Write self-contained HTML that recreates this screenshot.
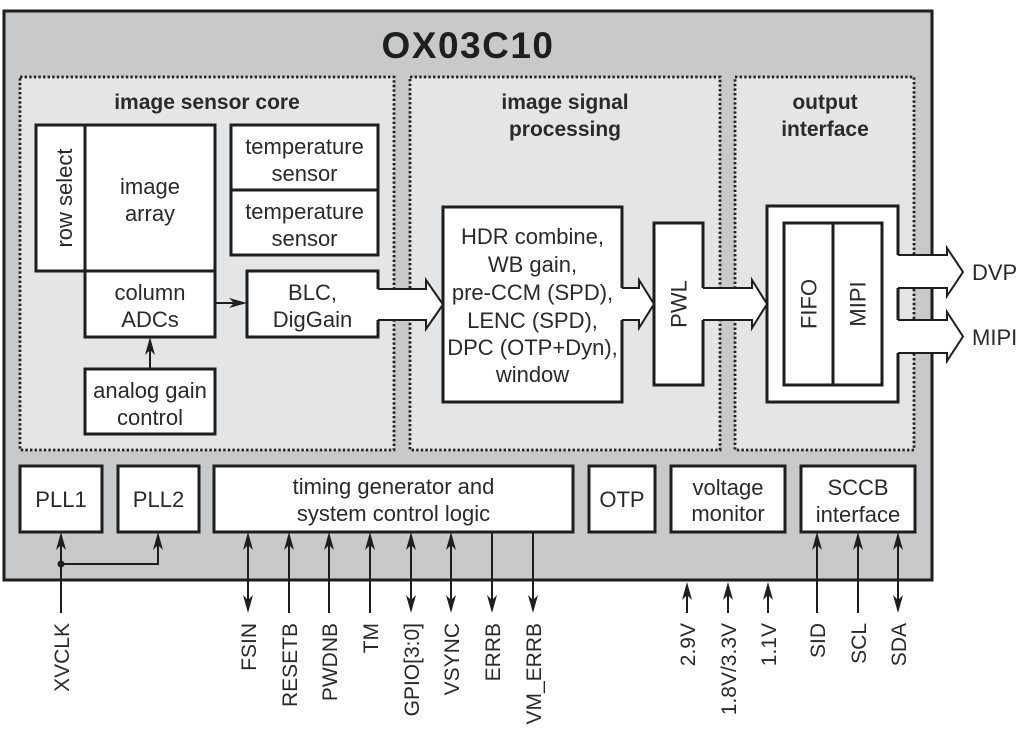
<!DOCTYPE html>
<html><head><meta charset="utf-8"><style>
html,body{margin:0;padding:0;background:#fff;}
svg{display:block;}
text{font-family:"Liberation Sans",sans-serif;fill:#2a2a2a;}
</style></head><body>
<svg width="1024" height="737" viewBox="0 0 1024 737" xmlns="http://www.w3.org/2000/svg">
<defs>
<path id="au" d="M0 0 L-5 18 L0 13 L5 18 Z" fill="#1e1e1e"/>
</defs>
<!-- outer -->
<rect x="4" y="11" width="928" height="569" fill="#c8c9cb" stroke="#1e1e1e" stroke-width="3"/>
<text x="468" y="58" font-size="37" font-weight="bold" text-anchor="middle" letter-spacing="1.5" style="fill:#1e1e1e">OX03C10</text>
<!-- panels -->
<g fill="#e4e5e7" stroke="#222" stroke-width="2.8" stroke-dasharray="2.4 2.2">
<rect x="20" y="77" width="374" height="373"/>
<rect x="410" y="77" width="310" height="373"/>
<rect x="735" y="77" width="179" height="373"/>
</g>
<g font-size="21" font-weight="bold" text-anchor="middle">
<text x="207" y="109">image sensor core</text>
<text x="565" y="109">image signal</text>
<text x="565" y="136">processing</text>
<text x="825" y="109">output</text>
<text x="825" y="136">interface</text>
</g>
<!-- boxes -->
<g fill="#fff" stroke="#1e1e1e" stroke-width="3">
<rect x="36" y="125" width="49" height="146"/>
<rect x="85" y="125" width="130" height="146"/>
<rect x="85" y="271" width="130" height="66"/>
<rect x="231" y="125" width="147" height="65"/>
<rect x="231" y="190" width="147" height="65"/>
<rect x="247" y="271" width="131" height="66"/>
<rect x="85" y="369" width="130" height="65"/>
<rect x="443" y="207" width="179" height="195"/>
<rect x="654" y="223" width="49" height="162"/>
<rect x="767" y="206" width="131" height="196"/>
<rect x="784" y="223" width="98" height="162"/>
<line x1="833" y1="223" x2="833" y2="385"/>
<rect x="20" y="466" width="82" height="66"/>
<rect x="118" y="466" width="81" height="66"/>
<rect x="214" y="466" width="359" height="66"/>
<rect x="589" y="466" width="66" height="66"/>
<rect x="671" y="466" width="114" height="66"/>
<rect x="801" y="466" width="114" height="66"/>
</g>
<!-- box text -->
<g font-size="22" text-anchor="middle">
<text x="150" y="194">image</text>
<text x="150" y="221">array</text>
<text x="150" y="300">column</text>
<text x="150" y="327">ADCs</text>
<text x="304.5" y="154">temperature</text>
<text x="304.5" y="181">sensor</text>
<text x="304.5" y="219">temperature</text>
<text x="304.5" y="246">sensor</text>
<text x="312.5" y="300">BLC,</text>
<text x="312.5" y="327">DigGain</text>
<text x="150" y="398">analog gain</text>
<text x="150" y="425">control</text>
<text x="532.5" y="244">HDR combine,</text>
<text x="532.5" y="272">WB gain,</text>
<text x="532.5" y="300">pre-CCM (SPD),</text>
<text x="532.5" y="328">LENC (SPD),</text>
<text x="532.5" y="355">DPC (OTP+Dyn),</text>
<text x="532.5" y="382">window</text>
<text x="61" y="507">PLL1</text>
<text x="158.5" y="507">PLL2</text>
<text x="393.5" y="494">timing generator and</text>
<text x="393.5" y="521">system control logic</text>
<text x="622" y="507">OTP</text>
<text x="728" y="495">voltage</text>
<text x="728" y="521">monitor</text>
<text x="858" y="495">SCCB</text>
<text x="858" y="522">interface</text>
<text transform="translate(72,198) rotate(-90)">row select</text>
<text transform="translate(686.5,304) rotate(-90)">PWL</text>
<text transform="translate(816.5,304) rotate(-90)">FIFO</text>
<text transform="translate(865.5,304) rotate(-90)">MIPI</text>
</g>
<!-- block arrows -->
<g fill="#fff" stroke="none">
<path d="M376 289 L426 289 L426 280 L443 304.5 L426 329 L426 320 L376 320 Z"/>
<path d="M620 288 L639 288 L639 280 L654 304 L639 328 L639 320 L620 320 Z"/>
<path d="M701 288 L752 288 L752 280 L767 304 L752 328 L752 320 L701 320 Z"/>
<path d="M896 255 L947 255 L947 248 L963 272 L947 296 L947 288 L896 288 Z"/>
<path d="M896 320 L947 320 L947 312 L963 336.5 L947 361 L947 353 L896 353 Z"/>
</g>
<g fill="none" stroke="#1e1e1e" stroke-width="2" stroke-linejoin="miter">
<polyline points="378,289 426,289 426,280 443,304.5 426,329 426,320 378,320"/>
<polyline points="622,288 639,288 639,280 654,304 639,328 639,320 622,320"/>
<polyline points="703,288 752,288 752,280 767,304 752,328 752,320 703,320"/>
<polyline points="898,255 947,255 947,248 963,272 947,296 947,288 898,288"/>
<polyline points="898,320 947,320 947,312 963,336.5 947,361 947,353 898,353"/>
</g>
<text x="972" y="280" font-size="22">DVP</text>
<text x="972" y="345" font-size="22">MIPI</text>
<!-- line arrows -->
<g stroke="#1e1e1e" stroke-width="2" fill="none">
<line x1="150" y1="369" x2="150" y2="345"/>
<line x1="215" y1="303" x2="240" y2="303"/>
<line x1="61" y1="613" x2="61" y2="540"/>
<polyline points="61,564 158,564 158,540"/>
<line x1="248" y1="540" x2="248" y2="605"/>
<line x1="289" y1="540" x2="289" y2="613"/>
<line x1="329" y1="540" x2="329" y2="613"/>
<line x1="370" y1="540" x2="370" y2="613"/>
<line x1="411" y1="540" x2="411" y2="605"/>
<line x1="451" y1="540" x2="451" y2="605"/>
<line x1="492" y1="532" x2="492" y2="605"/>
<line x1="533" y1="532" x2="533" y2="605"/>
<line x1="687" y1="590" x2="687" y2="613"/>
<line x1="728" y1="590" x2="728" y2="613"/>
<line x1="768" y1="590" x2="768" y2="613"/>
<line x1="817" y1="540" x2="817" y2="613"/>
<line x1="858" y1="540" x2="858" y2="613"/>
<line x1="898" y1="540" x2="898" y2="605"/>
</g>
<circle cx="61" cy="564" r="3.5" fill="#1e1e1e"/>
<!-- arrowheads up -->
<use href="#au" x="150" y="337"/>
<use href="#au" x="61" y="532"/>
<use href="#au" x="158" y="532"/>
<use href="#au" x="248" y="532"/>
<use href="#au" x="289" y="532"/>
<use href="#au" x="329" y="532"/>
<use href="#au" x="370" y="532"/>
<use href="#au" x="411" y="532"/>
<use href="#au" x="451" y="532"/>
<use href="#au" x="687" y="582"/>
<use href="#au" x="728" y="582"/>
<use href="#au" x="768" y="582"/>
<use href="#au" x="817" y="532"/>
<use href="#au" x="858" y="532"/>
<use href="#au" x="898" y="532"/>
<!-- arrowheads down -->
<use href="#au" transform="translate(248,613) rotate(180)"/>
<use href="#au" transform="translate(411,613) rotate(180)"/>
<use href="#au" transform="translate(451,613) rotate(180)"/>
<use href="#au" transform="translate(492,613) rotate(180)"/>
<use href="#au" transform="translate(533,613) rotate(180)"/>
<use href="#au" transform="translate(898,613) rotate(180)"/>
<!-- arrowhead right -->
<use href="#au" transform="translate(247,303) rotate(90)"/>
<!-- pin labels -->
<g font-size="21" text-anchor="end">
<text transform="translate(69,623) rotate(-90)">XVCLK</text>
<text transform="translate(256,623) rotate(-90)">FSIN</text>
<text transform="translate(297,623) rotate(-90)">RESETB</text>
<text transform="translate(337,623) rotate(-90)">PWDNB</text>
<text transform="translate(378,623) rotate(-90)">TM</text>
<text transform="translate(419,623) rotate(-90)">GPIO[3:0]</text>
<text transform="translate(459,623) rotate(-90)">VSYNC</text>
<text transform="translate(500,623) rotate(-90)">ERRB</text>
<text transform="translate(541,623) rotate(-90)">VM_ERRB</text>
<text transform="translate(695,623) rotate(-90)">2.9V</text>
<text transform="translate(736,623) rotate(-90)">1.8V/3.3V</text>
<text transform="translate(776,623) rotate(-90)">1.1V</text>
<text transform="translate(825,623) rotate(-90)">SID</text>
<text transform="translate(866,623) rotate(-90)">SCL</text>
<text transform="translate(906,623) rotate(-90)">SDA</text>
</g>
</svg>
</body></html>
